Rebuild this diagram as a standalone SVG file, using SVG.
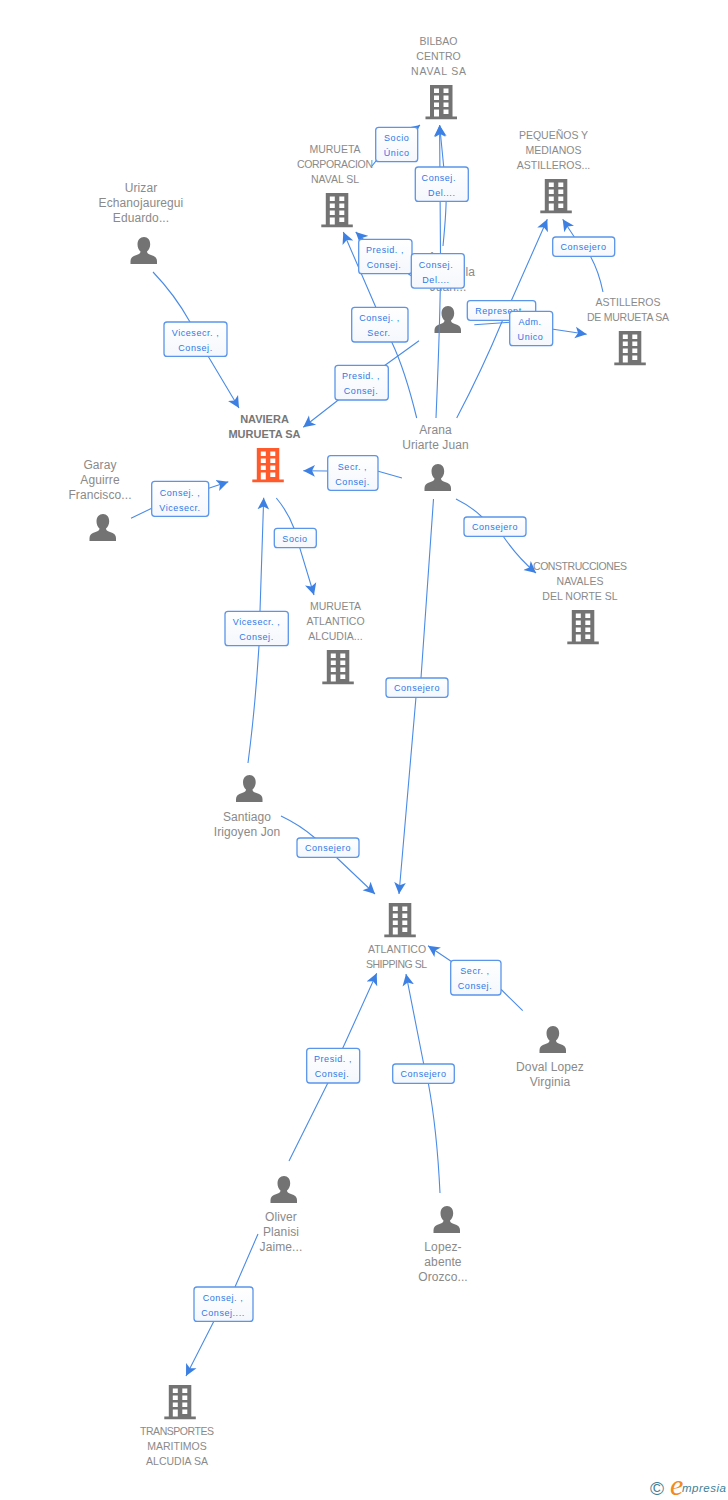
<svg xmlns="http://www.w3.org/2000/svg" width="728" height="1500" viewBox="0 0 728 1500">
<style>
text{font-family:"Liberation Sans",Arial,sans-serif}
.n{font-size:10.5px;fill:#8a8a8a;text-anchor:middle}
.p{font-size:12px;letter-spacing:.1px;fill:#8a8a8a;text-anchor:middle}
.b{font-size:11px;font-weight:bold;fill:#777;text-anchor:middle}
.l{font-size:9px;letter-spacing:.55px;fill:#2f78e6;text-anchor:middle}
.c{fill:none;stroke:#4a8be6;stroke-width:1.1;marker-end:url(#a)}
.r{fill:url(#g);stroke:#5a95ea;stroke-width:1.3}
</style>
<defs>
<linearGradient id="g" x1="0" y1="0" x2="0" y2="1"><stop offset="0" stop-color="#fff"/><stop offset="1" stop-color="#f4f7fc"/></linearGradient>
<marker id="a" markerUnits="userSpaceOnUse" markerWidth="14" markerHeight="14" refX="10" refY="6" orient="auto" viewBox="0 0 12 12"><path d="M0,1 L10,6 L0,11 L2.500,6z" fill="#3d80e3"/></marker>
<symbol id="bld" width="32" height="35" viewBox="0 0 32 35" overflow="visible">
<path fill="currentColor" fill-rule="evenodd" d="M4.500,0H27V31.500H31.500V34.200H0V31.500H4.500ZM8.500,3.500V8H13.500V3.500ZM18,3.500V8H23V3.500ZM8.500,10.500V15H13.500V10.500ZM18,10.500V15H23V10.500ZM8.500,17.500V22H13.500V17.500ZM18,17.500V22H23V17.500ZM8.500,24.500V31.500H13.500V24.500ZM18,24.500V29H23V24.500Z"/>
</symbol>
<symbol id="per" width="28" height="28" viewBox="0 0 28 28" overflow="visible">
<path fill="#737373" d="M14,0C10.200,0 7.500,3 7.500,7.200C7.500,10.300 8.700,12.800 10.500,14.500C10.500,16.200 9.500,17 6.500,18C2.500,19.300 .5,21 .5,24V27H27V24C27,21 25,19.300 21,18C18,17 17,16.200 17,14.500C18.800,12.800 20.200,10.300 20.200,7.200C20.200,3 17.800,0 14,0Z"/>
</symbol>
</defs>
<rect width="728" height="1500" fill="#fff"/>

<g id="node-bilbao" color="#737373"><text class="n" x="438.500" y="45">BILBAO</text><text class="n" x="438.500" y="60">CENTRO</text><text class="n" x="438.500" y="75" textLength="55">NAVAL SA</text><use href="#bld" x="425.500" y="85"/></g>
<g id="node-corporacion" color="#737373"><text class="n" x="335" y="153">MURUETA</text><text class="n" x="335" y="168" textLength="76">CORPORACION</text><text class="n" x="335" y="183">NAVAL SL</text><use href="#bld" x="321.300" y="193"/></g>
<g id="node-pequenos" color="#737373"><text class="n" x="553.500" y="139">PEQUEÑOS Y</text><text class="n" x="553.500" y="154">MEDIANOS</text><text class="n" x="553.500" y="169">ASTILLEROS...</text><use href="#bld" x="540.300" y="179"/></g>
<g id="node-astilleros" color="#737373"><text class="n" x="628" y="306">ASTILLEROS</text><text class="n" x="628" y="321" textLength="82">DE MURUETA SA</text><use href="#bld" x="614.300" y="331"/></g>
<g id="node-naviera" color="#ff5a2b"><text class="b" x="264.500" y="423">NAVIERA</text><text class="b" x="264.500" y="438">MURUETA SA</text><use href="#bld" x="252.300" y="448"/></g>
<g id="node-atlantico-alcudia" color="#737373"><text class="n" x="335.500" y="610">MURUETA</text><text class="n" x="335.500" y="625">ATLANTICO</text><text class="n" x="335.500" y="640">ALCUDIA...</text><use href="#bld" x="322.300" y="650"/></g>
<g id="node-construcciones" color="#737373"><text class="n" x="580" y="570" textLength="94">CONSTRUCCIONES</text><text class="n" x="580" y="585">NAVALES</text><text class="n" x="580" y="600">DEL NORTE SL</text><use href="#bld" x="567.300" y="610"/></g>
<g id="node-atlantico" color="#737373"><use href="#bld" x="384.300" y="903"/><text class="n" x="397" y="953">ATLANTICO</text><text class="n" x="396.500" y="968" textLength="61">SHIPPING SL</text></g>
<g id="node-transportes" color="#737373"><use href="#bld" x="164.300" y="1385"/><text class="n" x="177" y="1435" textLength="74">TRANSPORTES</text><text class="n" x="177" y="1450">MARITIMOS</text><text class="n" x="177" y="1465">ALCUDIA SA</text></g>

<g id="node-urizar"><text class="p" x="141" y="192">Urizar</text><text class="p" x="141" y="207">Echanojauregui</text><text class="p" x="141" y="222">Eduardo...</text><use href="#per" x="130" y="237"/></g>
<g id="node-garay"><text class="p" x="100" y="469">Garay</text><text class="p" x="100" y="484">Aguirre</text><text class="p" x="100" y="499">Francisco...</text><use href="#per" x="89" y="514"/></g>
<g id="node-hidden"><text class="p" x="432" y="261">A</text><text class="p" x="475" y="276" style="text-anchor:end">la</text><text class="p" x="448" y="291">Juan...</text><use href="#per" x="434" y="306"/></g>
<g id="node-arana"><text class="p" x="435.500" y="434">Arana</text><text class="p" x="435.500" y="449">Uriarte Juan</text><use href="#per" x="424" y="464"/></g>
<g id="node-santiago"><use href="#per" x="235.500" y="775"/><text class="p" x="247" y="821">Santiago</text><text class="p" x="247" y="836">Irigoyen Jon</text></g>
<g id="node-doval"><use href="#per" x="539" y="1026"/><text class="p" x="550" y="1071">Doval Lopez</text><text class="p" x="550" y="1086">Virginia</text></g>
<g id="node-oliver"><use href="#per" x="270" y="1176"/><text class="p" x="281" y="1221">Oliver</text><text class="p" x="281" y="1236">Planisi</text><text class="p" x="281" y="1251">Jaime...</text></g>
<g id="node-lopez"><use href="#per" x="433" y="1206"/><text class="p" x="443" y="1251">Lopez-</text><text class="p" x="443" y="1266">abente</text><text class="p" x="443" y="1281">Orozco...</text></g>

<g id="connectors">
<path class="c" d="M372,166 L376,161 L420,125"/>
<path class="c" d="M443,246 Q447,205 446,190 L439.600,125"/>
<path class="c" d="M436,418 Q441,300 440.500,253 L439.600,125"/>
<path class="c" d="M416.700,418 Q405,370 391.700,342 L375.700,307 L343.300,232"/>
<path class="c" d="M425,283 L410,275 L363,239 L355.700,232"/>
<path class="c" d="M456.700,418 Q482,370 502.300,321 L547.300,219.300"/>
<path class="c" d="M603,292 Q599,272 590.700,256.700 L574.300,237 L562.700,219.300"/>
<path class="c" d="M474.300,324.700 L510,322.300 L553.300,329.300 L586.700,334.300"/>
<path class="c" d="M419,340.700 L385,365.300 L338.300,400 L303.300,427.300"/>
<path class="c" d="M402,478 L378.300,471.300 L327.700,471 L303.300,470.700"/>
<path class="c" d="M153,272 Q175,295 190,322 L208,356 L239,408"/>
<path class="c" d="M131,518.300 L151.700,508.300 L208.700,488.300 L228.300,481.700"/>
<path class="c" d="M248,763 Q255,710 259,645.700 L260,611.300 L263.700,497.700"/>
<path class="c" d="M276.300,498 Q288,512 294,528.300 L299.700,547.700 L314,595"/>
<path class="c" d="M456,499 Q472,507 482,517 L503,536 Q518,558 536,573"/>
<path class="c" d="M433.500,499 L421,678 L416,697 L399,894"/>
<path class="c" d="M281,816 Q300,825 315,838 L336,857 L375,894"/>
<path class="c" d="M522.700,1010.700 L501.700,990 L450.700,961 L428,945.700"/>
<path class="c" d="M289,1161 L327.700,1083.300 L342.700,1048.300 L376.700,973.300"/>
<path class="c" d="M440,1193 Q437,1130 428.300,1083 L423.700,1064 L406,974"/>
<path class="c" d="M258,1234 L235,1287 L214,1321 L186,1376"/>
</g>

<g id="connector-labels">
<g><rect class="r" x="375.700" y="127.300" width="42" height="34.400" rx="3"/><text class="l" x="396.700" y="141">Socio</text><text class="l" x="396.700" y="156">Único</text></g>
<g><rect class="r" x="415.300" y="167" width="53" height="34.400" rx="3"/><text class="l" x="438.800" y="180.500">Consej.</text><text class="l" x="441.800" y="195.500">Del....</text></g>
<g><rect class="r" x="358.700" y="239.300" width="53.300" height="34.400" rx="3"/><text class="l" x="385" y="253">Presid. ,</text><text class="l" x="384" y="268">Consej.</text></g>
<g><rect class="r" x="467.300" y="300.700" width="68.400" height="19.600" rx="3"/><text class="l" x="500" y="314">Represent.</text></g>
<g><rect class="r" x="411.300" y="253.700" width="53" height="34.400" rx="3"/><text class="l" x="436" y="267.500">Consej.</text><text class="l" x="436" y="282.500">Del....</text></g>
<g><rect class="r" x="552.700" y="237" width="62" height="19.300" rx="3"/><text class="l" x="583.500" y="250">Consejero</text></g>
<g><rect class="r" x="351.700" y="307.300" width="56.300" height="34.700" rx="3"/><text class="l" x="379.500" y="321">Consej. ,</text><text class="l" x="379" y="336">Secr.</text></g>
<g><rect class="r" x="509.700" y="311.300" width="43" height="34.400" rx="3"/><text class="l" x="530" y="325">Adm.</text><text class="l" x="530.500" y="340">Unico</text></g>
<g><rect class="r" x="335" y="365.300" width="53.300" height="34.700" rx="3"/><text class="l" x="361" y="379">Presid. ,</text><text class="l" x="361" y="394">Consej.</text></g>
<g><rect class="r" x="164" y="322" width="63" height="34.400" rx="3"/><text class="l" x="195.500" y="335.500">Vicesecr. ,</text><text class="l" x="195.500" y="350.500">Consej.</text></g>
<g><rect class="r" x="151.700" y="481.300" width="57" height="35" rx="3"/><text class="l" x="180" y="495.500">Consej. ,</text><text class="l" x="180" y="510.500">Vicesecr.</text></g>
<g><rect class="r" x="327.700" y="455.700" width="50.300" height="34.600" rx="3"/><text class="l" x="352.500" y="469.500">Secr. ,</text><text class="l" x="352.500" y="484.500">Consej.</text></g>
<g><rect class="r" x="274.300" y="528.300" width="42" height="19.400" rx="3"/><text class="l" x="295" y="542">Socio</text></g>
<g><rect class="r" x="225" y="611.300" width="63.300" height="34.400" rx="3"/><text class="l" x="256.500" y="625">Vicesecr. ,</text><text class="l" x="256.500" y="640">Consej.</text></g>
<g><rect class="r" x="464" y="517" width="62" height="19.300" rx="3"/><text class="l" x="495" y="530">Consejero</text></g>
<g><rect class="r" x="386" y="678" width="62" height="19.300" rx="3"/><text class="l" x="417" y="691">Consejero</text></g>
<g><rect class="r" x="297" y="838" width="62" height="19.300" rx="3"/><text class="l" x="328" y="851">Consejero</text></g>
<g><rect class="r" x="450.700" y="960.300" width="50.300" height="34.700" rx="3"/><text class="l" x="475" y="974">Secr. ,</text><text class="l" x="475" y="989">Consej.</text></g>
<g><rect class="r" x="306.700" y="1048.300" width="53" height="34.700" rx="3"/><text class="l" x="333" y="1062">Presid. ,</text><text class="l" x="332" y="1077">Consej.</text></g>
<g><rect class="r" x="392.700" y="1064" width="61.600" height="19.300" rx="3"/><text class="l" x="423.500" y="1077">Consejero</text></g>
<g><rect class="r" x="194" y="1287" width="59" height="34.400" rx="3"/><text class="l" x="223" y="1300.500">Consej. ,</text><text class="l" x="223" y="1315.500">Consej....</text></g>
</g>

<g id="logo">
<text x="650" y="1495" style="font-size:19px;fill:#3f7f96">©</text>
<text x="670" y="1495" style="font-family:'Liberation Serif',serif;font-size:30px;font-style:italic;fill:#f28a1e">e</text>
<text x="682" y="1492" style="font-size:11.500px;font-style:italic;letter-spacing:.5px;fill:#3f7f96">mpresia</text>
</g>
</svg>
